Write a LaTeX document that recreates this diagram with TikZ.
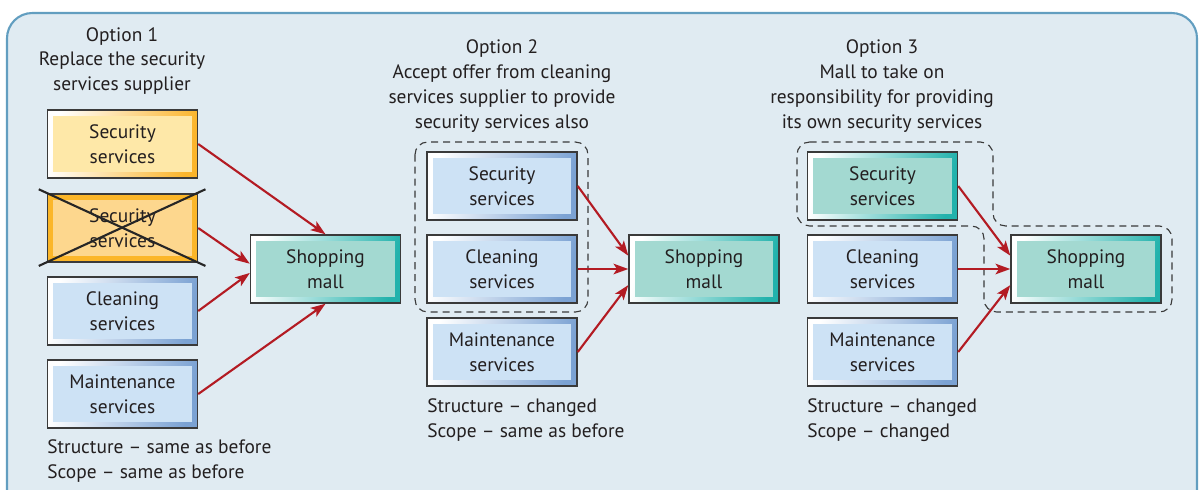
\documentclass[tikz,border=0pt]{standalone}
\usepackage{fontspec}
\setmainfont{PT Sans}
\usetikzlibrary{arrows.meta}

\definecolor{panelfill}{HTML}{E0EBF2}
\definecolor{panelline}{HTML}{629EC0}
\definecolor{boxline}{HTML}{3A3A3A}
\definecolor{blueinner}{HTML}{CDE2F5}
\definecolor{blueedge}{HTML}{7BA2D3}
\definecolor{tealinner}{HTML}{A3D9D1}
\definecolor{tealedge}{HTML}{22B2AC}
\definecolor{yellowinner}{HTML}{FEE8A8}
\definecolor{yellowedge}{HTML}{FBB52C}
\definecolor{orangeinner}{HTML}{FDD78E}
\definecolor{orangeedge}{HTML}{FBB629}
\definecolor{arrowred}{HTML}{B31B23}
\definecolor{textgray}{HTML}{231F20}

\begin{document}
\begin{tikzpicture}[x=0.025cm, y=-0.025cm,
  every node/.style={text=textgray, font=\fontsize{13.8}{17.6}\selectfont},
  svcbox/.style n args={3}{draw=boxline, line width=1pt, minimum width=3.75cm,
    minimum height=1.7cm, align=center, inner sep=0pt,
    path picture={
      \shade[top color=#2, bottom color=#3, shading angle=78]
        (path picture bounding box.south west) rectangle (path picture bounding box.north east);
      \fill[#1] ([shift={(0.15cm,0.15cm)}]path picture bounding box.south west)
        rectangle ([shift={(-0.15cm,-0.15cm)}]path picture bounding box.north east);}},
  bluebox/.style={svcbox={blueinner}{white}{blueedge}},
  mallbox/.style={svcbox={tealinner}{white}{tealedge}},
  feed/.style={-{Stealth[length=10.5pt, width=7.5pt, inset=2.5pt]}, arrowred, line width=1.5pt},
  group/.style={boxline, line width=0.8pt, dash pattern=on 5pt off 3.5pt, rounded corners=9pt},
  heading/.style={align=center, inner sep=0pt},
  note/.style={align=left, anchor=west, inner sep=0pt}
]
  % Frame
  \useasboundingbox (0,0) rectangle (1200,489);
  \clip (0,0) rectangle (1200,489);
  \draw[fill=panelfill, draw=panelline, line width=1.5pt, rounded corners=18pt] (7,13) rectangle (1197,530);

  % Option 1
  \node[heading] (headA) at (122,61) {Option 1\\Replace the security\\services supplier};
  \node[svcbox={yellowinner}{white}{yellowedge}] (secA) at (122.5,144) {Security\\services};
  \node[svcbox={orangeinner}{orangeedge}{orangeedge}] (secOld) at (122.5,228) {Security\\services};
  \node[bluebox] (cleanA) at (122.5,311) {Cleaning\\services};
  \node[bluebox] (maintA) at (122.5,394) {Maintenance\\services};
  \node[mallbox] (mallA) at (325.5,269) {Shopping\\mall};
  \node[note] (noteA) at (47,461) {Structure – same as before\\Scope – same as before};

  % Crossed out supplier
  \draw[line width=1.5pt, black!85] ([shift={(-0.2cm,0.1cm)}]secOld.north west) -- ([shift={(0.18cm,-0.08cm)}]secOld.south east);
  \draw[line width=1.5pt, black!85] ([shift={(-0.2cm,-0.08cm)}]secOld.south west) -- ([shift={(0.18cm,0.1cm)}]secOld.north east);

  \draw[feed] (secA.east) -- (mallA.north);
  \draw[feed] (secOld.east) -- (mallA.176);
  \draw[feed] (cleanA.east) -- (mallA.183);
  \draw[feed] (maintA.east) -- (mallA.south);

  % Option 2
  \node[heading] (headB) at (502,86) {Option 2\\Accept offer from cleaning\\services supplier to provide\\security services also};
  \draw[group] (415,142) rectangle (588,312);
  \node[bluebox] (secB) at (502,186) {Security\\services};
  \node[bluebox] (cleanB) at (502,269) {Cleaning\\services};
  \node[bluebox] (maintB) at (502,352) {Maintenance\\services};
  \node[mallbox] (mallB) at (704,269) {Shopping\\mall};
  \node[note] (noteB) at (427,420) {Structure – changed\\Scope – same as before};

  \draw[feed] (secB.east) -- (mallB.170);
  \draw[feed] (cleanB.east) -- (mallB.west);
  \draw[feed] (maintB.east) -- (mallB.192);

  % Option 3
  \node[heading] (headC) at (882,86) {Option 3\\Mall to take on\\responsibility for providing\\its own security services};
  \draw[group] (797,142) -- (993,142) -- (993,226) -- (1172,226) -- (1172,312)
    -- (984,312) -- (984,226) -- (797,226) -- cycle;
  \node[mallbox] (secC) at (882.5,186) {Security\\services};
  \node[bluebox] (cleanC) at (882.5,269) {Cleaning\\services};
  \node[bluebox] (maintC) at (882.5,352) {Maintenance\\services};
  \node[mallbox] (mallC) at (1086,269) {Shopping\\mall};
  \node[note] (noteC) at (807,420) {Structure – changed\\Scope – changed};

  \draw[feed] (secC.east) -- (mallC.170);
  \draw[feed] (cleanC.east) -- (mallC.west);
  \draw[feed] (maintC.east) -- (mallC.192);
\end{tikzpicture}
\end{document}
